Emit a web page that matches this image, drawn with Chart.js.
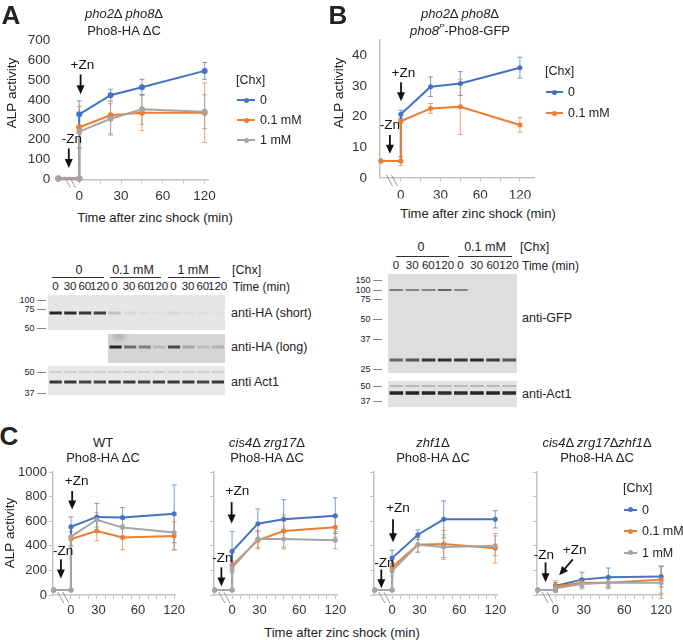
<!DOCTYPE html>
<html>
<head>
<meta charset="utf-8">
<script src="https://cdn.jsdelivr.net/npm/chart.js@4.4.1/dist/chart.umd.min.js"></script>
<style>
  body { margin: 0; background: #fff; }
  #page { position: relative; width: 683px; height: 640px; overflow: hidden;
          font-family: 'Liberation Sans', Arial, sans-serif; color: #222; }
  #page canvas { position: absolute; }
  .t { position: absolute; white-space: nowrap; line-height: 1; transform: translate(-50%, -50%); }
  .l { position: absolute; white-space: nowrap; line-height: 1; transform: translate(0, -50%); }
  .r { position: absolute; white-space: nowrap; line-height: 1; transform: translate(-100%, -50%); }
  .rot { position: absolute; white-space: nowrap; line-height: 1; transform: translate(-50%, -50%) rotate(-90deg); }
  .hr { position: absolute; height: 0; border-top: 1px solid #333; }
</style>
</head>
<body>
<div id="page"></div>
<script>
const FONT = "'Liberation Sans', Arial, sans-serif";
const BLUE = '#4472c4', ORANGE = '#ed7d31', GRAY = '#a5a5a5';
const AXIS = '#c4c4c4', TXT = '#333';

// time points in minutes: -20 is the -Zn baseline, 0 appears twice for the jump
const times = [-20, 0, 0, 30, 60, 120];
const chxLabels = ['0', '0.1 mM', '1 mM'];

// Panel A  (pho2 pho8, Pho8-HA dC)
const aBlue = [5, 5, 327, 423, 463, 545];
const aBlueErr = [0, 0, 68, 30, 40, 42];
const aOrange = [5, 5, 262, 322, 335, 335];
const aOrangeErr = [0, 0, 105, 100, 90, 150];
const aGray = [5, 5, 240, 305, 352, 340];
const aGrayErr = [0, 0, 80, 75, 75, 85];

// Panel B  (pho8p-Pho8-GFP)
const bBlue = [5.5, 5.5, 20.8, 29.8, 30.8, 36.0];
const bBlueErr = [0, 0, 1.3, 3.2, 3.9, 3.4];
const bOrange = [5.5, 5.5, 18.5, 22.7, 23.2, 17.3];
const bOrangeErr = [0, 1.5, 0.5, 1.6, 9, 2.4];

// Panel C
const wtBlue = [40, 40, 555, 635, 630, 660];
const wtBlueErr = [0, 0, 80, 110, 80, 235];
const wtOrange = [40, 40, 455, 520, 468, 480];
const wtOrangeErr = [0, 0, 60, 80, 100, 115];
const wtGray = [40, 40, 475, 612, 548, 508];
const wtGrayErr = [0, 0, 70, 60, 70, 140];

const czBlue = [40, 40, 355, 580, 615, 645];
const czBlueErr = [0, 0, 160, 120, 160, 145];
const czOrange = [40, 40, 240, 445, 520, 550];
const czOrangeErr = [0, 0, 40, 70, 130, 80];
const czGray = [40, 40, 220, 455, 455, 445];
const czGrayErr = [0, 0, 40, 70, 80, 70];

const zhBlue = [40, 40, 300, 490, 615, 615];
const zhBlueErr = [0, 0, 65, 40, 150, 70];
const zhOrange = [40, 40, 225, 408, 415, 380];
const zhOrangeErr = [0, 0, 30, 60, 110, 120];
const zhGray = [40, 40, 195, 408, 390, 400];
const zhGrayErr = [0, 0, 40, 60, 100, 80];

const tripleBlue = [40, 40, 75, 125, 145, 150];
const tripleBlueErr = [0, 0, 25, 60, 75, 85];
const tripleOrange = [40, 40, 70, 100, 100, 125];
const tripleOrangeErr = [0, 0, 45, 35, 40, 110];
const tripleGray = [40, 40, 55, 90, 100, 100];
const tripleGrayErr = [0, 0, 30, 40, 50, 130];

// x tick labels (text) and where they sit on the time axis
const xTickText = ['0', '30', '60', '120'];
const abTickPos = [0, 40, 80, 120];
const cTickPos = [0, 32, 78, 120];

// western blot band intensities (0..1), one value per lane
const aShortBand = [0.95, 0.9, 0.85, 0.8, 0.18, 0.06, 0.04, 0.03, 0.06, 0.04, 0.03, 0.02];
const aLongBand = [0.95, 0.55, 0.45, 0.15, 0.75, 0.25, 0.12, 0.18];
const aActBand = [0.85, 0.85, 0.8, 0.8, 0.85, 0.85, 0.8, 0.85, 0.85, 0.85, 0.8, 0.85];
const bGfpBand = [0.5, 0.45, 0.45, 0.6, 0.45, 0, 0, 0];
const bFreeGfpBand = [0.6, 0.7, 0.85, 0.9, 0.85, 0.95, 0.8, 0.7];
const bActBand = [0.95, 0.95, 0.95, 0.9, 0.9, 0.95, 0.95, 0.9];
const aLanes = ['0', '30', '60', '120', '0', '30', '60', '120', '0', '30', '60', '120'];
const bLanes = ['0', '30', '60', '120', '0', '30', '60', '120'];

const page = document.getElementById('page');

function txt(html, x, y, cls, size, extra) {
  const d = document.createElement('div');
  d.className = cls;
  d.innerHTML = html;
  d.style.left = x + 'px';
  d.style.top = y + 'px';
  d.style.fontSize = size + 'px';
  if (extra) d.style.cssText += extra;
  page.appendChild(d);
  return d;
}

function hline(x0, x1, y) {
  const d = document.createElement('div');
  d.className = 'hr';
  Object.assign(d.style, { left: x0 + 'px', top: y + 'px', width: (x1 - x0) + 'px' });
  page.appendChild(d);
}

function legend(x, y, dy, names, colors, lineW) {
  txt('[Chx]', x, y, 'l', 12.5);
  names.forEach((n, i) => {
    const yy = y + dy * (i + 1);
    const ln = document.createElement('div');
    Object.assign(ln.style, { position: 'absolute', left: x + 1 + 'px', top: yy - 1 + 'px',
      width: lineW + 'px', height: '2px', background: colors[i] });
    page.appendChild(ln);
    const dot = document.createElement('div');
    Object.assign(dot.style, { position: 'absolute', left: x + 1 + lineW / 2 - 2.5 + 'px', top: yy - 2.5 + 'px',
      width: '5px', height: '5px', borderRadius: '50%', background: colors[i] });
    page.appendChild(dot);
    txt(n, x + lineW + 6, yy, 'l', 12.5);
  });
}

// error bars, axis break marks and the -Zn / +Zn arrows
const deco = {
  id: 'deco',
  beforeDatasetsDraw(chart) {
    const { ctx, scales: { x, y } } = chart;
    ctx.save();
    chart.data.datasets.forEach(ds => {
      if (!ds.err) return;
      ctx.strokeStyle = ds.errColor;
      ctx.lineWidth = 1;
      ds.data.forEach((p, i) => {
        const e = ds.err[i];
        if (!e) return;
        const px = x.getPixelForValue(p.x);
        const y1 = y.getPixelForValue(p.y - e), y2 = y.getPixelForValue(p.y + e);
        ctx.beginPath();
        ctx.moveTo(px, y1); ctx.lineTo(px, y2);
        ctx.moveTo(px - 2.5, y1); ctx.lineTo(px + 2.5, y1);
        ctx.moveTo(px - 2.5, y2); ctx.lineTo(px + 2.5, y2);
        ctx.stroke();
      });
    });
    ctx.restore();
  },
  afterDraw(chart, args, o) {
    const { ctx, scales: { x, y } } = chart;
    ctx.save();
    // break marks on the time axis
    const bx = x.getPixelForValue(o.brk), ay = chart.chartArea.bottom;
    ctx.strokeStyle = '#9a9a9a';
    ctx.lineWidth = 1;
    [-2.5, 2.5].forEach(d => {
      ctx.beginPath();
      ctx.moveTo(bx + d - 3, ay - 3);
      ctx.lineTo(bx + d + 3, ay + 8);
      ctx.stroke();
    });
    // arrows with labels
    ctx.fillStyle = '#111';
    ctx.strokeStyle = '#111';
    ctx.font = '13.5px ' + FONT;
    ctx.textAlign = 'center';
    ctx.textBaseline = 'middle';
    o.annos.forEach(a => {
      ctx.fillText(a.text, x.getPixelForValue(a.tx), y.getPixelForValue(a.ty));
      const x1 = x.getPixelForValue(a.x1), y1 = y.getPixelForValue(a.y1);
      const x2 = x.getPixelForValue(a.x2), y2 = y.getPixelForValue(a.y2);
      const ang = Math.atan2(y2 - y1, x2 - x1);
      ctx.lineWidth = 1.8;
      ctx.beginPath();
      ctx.moveTo(x1, y1);
      ctx.lineTo(x2 - 6 * Math.cos(ang), y2 - 6 * Math.sin(ang));
      ctx.stroke();
      ctx.beginPath();
      ctx.moveTo(x2, y2);
      ctx.lineTo(x2 - 9 * Math.cos(ang) + 4 * Math.sin(ang), y2 - 9 * Math.sin(ang) - 4 * Math.cos(ang));
      ctx.lineTo(x2 - 9 * Math.cos(ang) - 4 * Math.sin(ang), y2 - 9 * Math.sin(ang) + 4 * Math.cos(ang));
      ctx.closePath();
      ctx.fill();
    });
    ctx.restore();
  }
};

// box = chart area [left, top, right, bottom] on the page; m = room for axes [l, t, r, b]
function timeChart(o) {
  const cv = document.createElement('canvas');
  const left = o.box[0] - o.m[0], top = o.box[1] - o.m[1];
  const w = Math.ceil(o.box[2] + o.m[2] - left), h = Math.ceil(o.box[3] + o.m[3] - top);
  cv.width = w; cv.height = h;
  cv.style.left = left + 'px'; cv.style.top = top + 'px';
  page.appendChild(cv);

  const marks = [];
  for (let v = 0; v <= 120; v += o.markStep) marks.push(v);
  const tickVals = [...new Set([...marks, ...o.labelPos])].sort((a, b) => a - b);

  new Chart(cv, {
    type: 'line',
    data: {
      datasets: o.series.map(s => ({
        data: times.map((t, i) => ({ x: t, y: s.vals[i] })),
        err: s.err,
        errColor: s.errColor,
        borderColor: s.color,
        backgroundColor: s.color,
        pointRadius: o.r,
        pointBorderWidth: 0,
        borderWidth: 2,
        order: s.order,
        clip: false
      }))
    },
    options: {
      responsive: false,
      animation: false,
      events: [],
      layout: { padding: { left: 0, top: o.box[1] - top, right: left + w - o.box[2], bottom: 0 } },
      plugins: {
        legend: { display: false },
        tooltip: { enabled: false },
        deco: { brk: -9, annos: o.annos }
      },
      scales: {
        x: {
          type: 'linear', min: -21, max: o.xMax,
          border: { display: true, color: AXIS, width: 1.5 },
          grid: { drawOnChartArea: false, drawTicks: true, tickLength: 4,
                  tickColor: c => marks.includes(c.tick.value) ? AXIS : 'rgba(0,0,0,0)' },
          ticks: {
            autoSkip: false, maxRotation: 0, padding: o.xPad,
            color: TXT, font: { family: FONT, size: o.fs },
            callback: v => {
              const k = o.labelPos.indexOf(v);
              return k >= 0 ? xTickText[k] : '';
            }
          },
          afterBuildTicks: s => { s.ticks = tickVals.map(v => ({ value: v })); },
          afterFit: s => { s.height = top + h - o.box[3]; }
        },
        y: {
          min: 0, max: o.yMax,
          border: { display: o.yLine, color: AXIS, width: 1.5 },
          grid: { drawOnChartArea: false, drawTicks: o.yTicks, tickLength: 4, tickColor: AXIS },
          ticks: {
            stepSize: o.yStep, padding: o.yPad, color: TXT,
            font: { family: FONT, size: o.fs },
            callback: v => (o.yLabels && v <= o.yLabelMax) ? String(v) : ''
          },
          afterFit: s => { s.width = o.m[0]; }
        }
      }
    },
    plugins: [deco]
  });
}

function three(bl, blE, or, orE, gr, grE) {
  return [
    { vals: bl, err: blE, color: BLUE, errColor: 'rgba(68,114,196,0.7)', order: 3 },
    { vals: or, err: orE, color: ORANGE, errColor: 'rgba(237,125,49,0.7)', order: 2 },
    { vals: gr, err: grE, color: GRAY, errColor: 'rgba(150,150,150,0.7)', order: 1 }
  ];
}

// ---------- Panel A chart ----------
timeChart({
  box: [57.3, 39.5, 208.8, 179], m: [57.3, 20, 16, 20], xMax: 124,
  yMax: 700, yStep: 100, yLabels: true, yLabelMax: 700, yLine: false, yTicks: false, yPad: 7,
  labelPos: abTickPos, markStep: 20, xPad: 5, fs: 13.5, r: 3,
  series: three(aBlue, aBlueErr, aOrange, aOrangeErr, aGray, aGrayErr),
  annos: [
    { text: '+Zn', tx: 3, ty: 572, x1: 1.3, y1: 527, x2: 1.3, y2: 428 },
    { text: '-Zn', tx: -7, ty: 204, x1: -10, y1: 156, x2: -10, y2: 58 }
  ]
});

// ---------- Panel B chart ----------
timeChart({
  box: [380.2, 38.5, 535, 178], m: [40, 20, 16, 20], xMax: 135,
  yMax: 45, yStep: 10, yLabels: true, yLabelMax: 40, yLine: true, yTicks: false, yPad: 13,
  labelPos: abTickPos, markStep: 20, xPad: 5, fs: 13.5, r: 2.5,
  series: [
    { vals: bBlue, err: bBlueErr, color: BLUE, errColor: 'rgba(68,114,196,0.7)', order: 2 },
    { vals: bOrange, err: bOrangeErr, color: ORANGE, errColor: 'rgba(237,125,49,0.7)', order: 1 }
  ],
  annos: [
    { text: '+Zn', tx: 2.5, ty: 34.3, x1: 0.2, y1: 31.2, x2: 0.2, y2: 25 },
    { text: '-Zn', tx: -11, ty: 17.1, x1: -11, y1: 14, x2: -11, y2: 7.9 }
  ]
});

// ---------- Panel C charts ----------
const cCommon = { yMax: 1000, yStep: 200, yLine: true, yTicks: true, yPad: 2,
  labelPos: cTickPos, markStep: 10, xPad: 4, fs: 13, r: 2.5, xMax: 122 };

timeChart(Object.assign({}, cCommon, {
  box: [52.9, 472, 175.9, 595], m: [52.9, 12, 16, 20], yLabels: true, yLabelMax: 1000,
  series: three(wtBlue, wtBlueErr, wtOrange, wtOrangeErr, wtGray, wtGrayErr),
  annos: [
    { text: '+Zn', tx: 6.6, ty: 921, x1: 1.4, y1: 845, x2: 1.4, y2: 695 },
    { text: '-Zn', tx: -9, ty: 352, x1: -11.7, y1: 290, x2: -11.7, y2: 135 }
  ]
}));
timeChart(Object.assign({}, cCommon, {
  box: [213.6, 472, 336.6, 595], m: [33, 12, 16, 20], yLabels: false,
  series: three(czBlue, czBlueErr, czOrange, czOrangeErr, czGray, czGrayErr),
  annos: [
    { text: '+Zn', tx: 6.2, ty: 840, x1: -0.5, y1: 755, x2: -0.5, y2: 582 },
    { text: '-Zn', tx: -11.2, ty: 301, x1: -12.4, y1: 225, x2: -12.4, y2: 70 }
  ]
}));
timeChart(Object.assign({}, cCommon, {
  box: [373.6, 472, 496.6, 595], m: [33, 12, 16, 20], yLabels: false,
  series: three(zhBlue, zhBlueErr, zhOrange, zhOrangeErr, zhGray, zhGrayErr),
  annos: [
    { text: '+Zn', tx: 6.9, ty: 707, x1: 1.1, y1: 615, x2: 1.1, y2: 428 },
    { text: '-Zn', tx: -9, ty: 260, x1: -12.5, y1: 208, x2: -12.5, y2: 54 }
  ]
}));
timeChart(Object.assign({}, cCommon, {
  box: [536.5, 472, 662.4, 595], m: [30, 12, 16, 20], yLabels: false,
  series: three(tripleBlue, tripleBlueErr, tripleOrange, tripleOrangeErr, tripleGray, tripleGrayErr),
  annos: [
    { text: '-Zn', tx: -13.2, ty: 325, x1: -11.3, y1: 265, x2: -11.3, y2: 103 },
    { text: '+Zn', tx: 21.7, ty: 366, x1: 19.7, y1: 290, x2: 4.2, y2: 160 }
  ]
}));

// ---------- text around the charts ----------
txt('A', 11, 15, 't', 26, 'font-weight:bold;');
txt('B', 338, 15, 't', 26, 'font-weight:bold;');
txt('C', 9, 436, 't', 26, 'font-weight:bold;');

txt('<i>pho2</i>Δ <i>pho8</i>Δ', 124, 13, 't', 13);
txt('Pho8-HA ΔC', 124, 30, 't', 13);
txt('<i>pho2</i>Δ <i>pho8</i>Δ', 460, 13, 't', 13);
txt('<i>pho8</i><sup style="font-size:8px"><i>P</i></sup>-Pho8-GFP', 460, 30, 't', 13);

txt('ALP activity', 12, 93, 'rot', 13.5);
txt('ALP activity', 339, 93, 'rot', 13.5);
txt('ALP activity', 10, 533, 'rot', 13.5);
txt('Time after zinc shock (min)', 155, 217, 't', 13);
txt('Time after zinc shock (min)', 478, 213, 't', 13);
txt('Time after zinc shock (min)', 342, 632, 't', 13);

legend(236, 80, 20, chxLabels, [BLUE, ORANGE, GRAY], 18);
legend(545, 71, 21, chxLabels.slice(0, 2), [BLUE, ORANGE], 17);
legend(623, 488, 21.5, chxLabels, [BLUE, ORANGE, GRAY], 13);

txt('WT', 103, 442, 't', 13);
txt('Pho8-HA ΔC', 103, 457, 't', 13);
txt('<i>cis4</i>Δ <i>zrg17</i>Δ', 267, 442, 't', 13);
txt('Pho8-HA ΔC', 267, 457, 't', 13);
txt('<i>zhf1</i>Δ', 433, 442, 't', 13);
txt('Pho8-HA ΔC', 433, 457, 't', 13);
txt('<i>cis4</i>Δ <i>zrg17</i>Δ<i>zhf1</i>Δ', 597, 442, 't', 13);
txt('Pho8-HA ΔC', 597, 457, 't', 13);

// ---------- western blots ----------
function blot(x, y, w, h, bg, lanes, bands) {
  const cv = document.createElement('canvas');
  cv.width = w; cv.height = h;
  cv.style.left = x + 'px'; cv.style.top = y + 'px';
  page.appendChild(cv);
  const g = cv.getContext('2d');
  g.fillStyle = bg;
  g.fillRect(0, 0, w, h);
  const lw = w / lanes;
  g.filter = 'blur(0.7px)';
  bands.forEach(b => b.vals.forEach((v, i) => {
    if (!v) return;
    g.fillStyle = 'rgba(25,25,25,' + v + ')';
    g.fillRect(i * lw + 1.5, b.y - b.h / 2, lw - 2.5, b.h);
  }));
  return g;
}

function laneLabels(x0, w, names, y) {
  const lw = w / names.length;
  names.forEach((n, i) => txt(n, x0 + lw * (i + 0.5), y, 't', 11.5));
}

function markers(xr, list) {
  list.forEach(([lab, y]) => txt(lab + ' —', xr, y, 'r', 9));
}

// Panel A blots
txt('0', 79, 270, 't', 12.5);
txt('0.1 mM', 133, 270, 't', 12.5);
txt('1 mM', 193, 270, 't', 12.5);
txt('[Chx]', 232, 270, 'l', 12.5);
hline(52, 104, 277); hline(110, 161, 277); hline(168, 220, 277);
laneLabels(48, 177, aLanes, 287);
txt('Time (min)', 233, 287, 'l', 12);

blot(48, 295, 177, 35, '#e6e6e6', 12, [{ y: 18, h: 3, vals: aShortBand }]);
const longG = blot(108, 334, 117, 29, '#d5d5d5', 8, [{ y: 13, h: 3, vals: aLongBand }]);
longG.filter = 'blur(3px)';
longG.fillStyle = 'rgba(70,70,70,0.35)';
longG.fillRect(6, -2, 10, 7);
blot(48, 366, 177, 29, '#e8e8e8', 12, [{ y: 16, h: 3, vals: aActBand },
  { y: 6, h: 2, vals: aActBand.map(() => 0.12) }]);
markers(46, [['100', 300], ['75', 309], ['50', 328], ['50', 372], ['37', 393]]);
txt('anti-HA (short)', 231, 313, 'l', 12.5);
txt('anti-HA (long)', 231, 347, 'l', 12.5);
txt('anti Act1', 231, 382, 'l', 12.5);

// Panel B blots
txt('0', 421, 247, 't', 12.5);
txt('0.1 mM', 485, 247, 't', 12.5);
txt('[Chx]', 520, 247, 'l', 12.5);
hline(396, 449, 256); hline(458, 512, 256);
laneLabels(388, 129, bLanes, 266);
txt('Time (min)', 522, 266, 'l', 12);

blot(388, 274, 129, 99, '#dedede', 8, [{ y: 16, h: 2, vals: bGfpBand },
  { y: 86, h: 3, vals: bFreeGfpBand }]);
blot(388, 381, 129, 26, '#e2e2e2', 8, [{ y: 12, h: 3.5, vals: bActBand },
  { y: 5, h: 2, vals: bActBand.map(() => 0.2) }]);
markers(382, [['150', 280], ['100', 290], ['75', 299], ['50', 319], ['37', 339], ['25', 369],
  ['50', 386], ['37', 401]]);
txt('anti-GFP', 522, 318, 'l', 12.5);
txt('anti-Act1', 522, 394, 'l', 12.5);
</script>
</body>
</html>
